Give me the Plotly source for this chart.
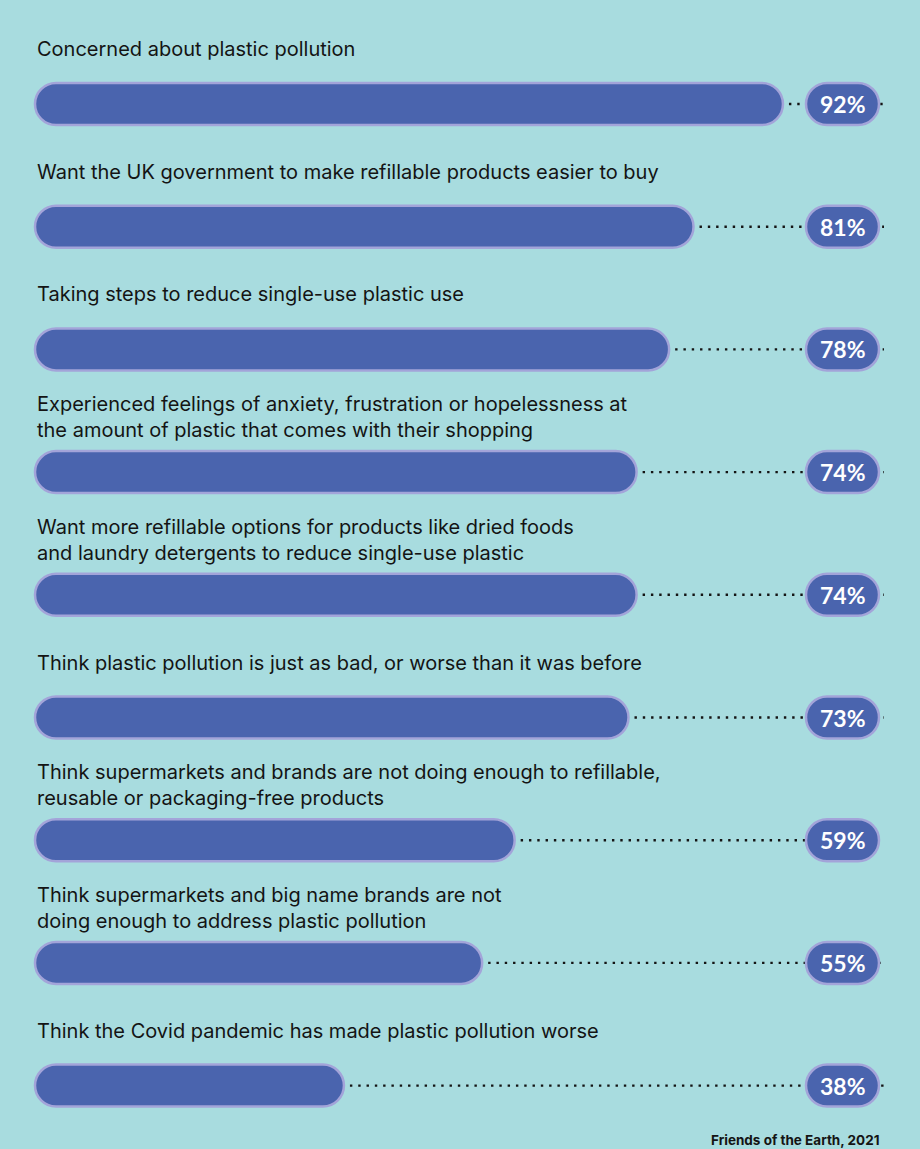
import plotly.graph_objects as go

# Survey statements and share of respondents agreeing (%)
statements = [
    "Concerned about plastic pollution",
    "Want the UK government to make refillable products easier to buy",
    "Taking steps to reduce single-use plastic use",
    "Experienced feelings of anxiety, frustration or hopelessness at<br>the amount of plastic that comes with their shopping",
    "Want more refillable options for products like dried foods<br>and laundry detergents to reduce single-use plastic",
    "Think plastic pollution is just as bad, or worse than it was before",
    "Think supermarkets and brands are not doing enough to refillable,<br>reusable or packaging-free products",
    "Think supermarkets and big name brands are not<br>doing enough to address plastic pollution",
    "Think the Covid pandemic has made plastic pollution worse",
]
values = [92, 81, 78, 74, 74, 73, 59, 55, 38]
source = "Friends of the Earth, 2021"

# Page geometry
W, H = 920, 1149
X0_PX = 35.0          # pixel position of 0 %
PX_PER_PCT = 8.13     # pixels per percentage point
ROW0_PX = 104.0       # pixel centre of first row
ROW_PX = 122.7        # pixel spacing of rows

BG = "#a8dcdf"
FILL = "#4a64ae"
EDGE = "#a3a4d9"
INK = "#141414"

x_range = [-X0_PX / PX_PER_PCT, (W - X0_PX) / PX_PER_PCT]
y_range = [(H - ROW0_PX) / ROW_PX, -ROW0_PX / ROW_PX]

def px_x(p):
    return p / PX_PER_PCT

def px_y(p):
    return p / ROW_PX

HALF_H = px_y(21)      # half bar height
RAD_X = px_x(21)       # end-cap radius in x units
PILL_X0 = px_x(806 - X0_PX)
PILL_X1 = px_x(879 - X0_PX)
DOT_END = px_x(884 - X0_PX)
K = 0.5523

def pill(x0, x1, yc, rx, hy):
    t, b = yc - hy, yc + hy
    return (
        f"M {x0+rx},{t} L {x1-rx},{t} "
        f"C {x1-rx+K*rx},{t} {x1},{yc-K*hy} {x1},{yc} "
        f"C {x1},{yc+K*hy} {x1-rx+K*rx},{b} {x1-rx},{b} "
        f"L {x0+rx},{b} "
        f"C {x0+rx-K*rx},{b} {x0},{yc+K*hy} {x0},{yc} "
        f"C {x0},{yc-K*hy} {x0+rx-K*rx},{t} {x0+rx},{t} Z"
    )

rows = list(range(len(values)))

fig = go.Figure()

# dotted leader lines from each bar end to the value badge
for i, v in zip(rows, values):
    fig.add_trace(go.Scatter(
        x=[v + px_x(6), DOT_END], y=[i, i], mode="lines",
        line=dict(color=INK, width=2.4, dash="2.4px,5.9px"),
        hoverinfo="skip", showlegend=False,
    ))

shapes = []
annotations = []
for i, (label, v) in enumerate(zip(statements, values)):
    shapes.append(dict(
        type="path", xref="x", yref="y", layer="above",
        path=pill(0, v, i, RAD_X, HALF_H),
        fillcolor=FILL, line=dict(color=EDGE, width=2.5),
    ))
    shapes.append(dict(
        type="path", xref="x", yref="y", layer="above",
        path=pill(PILL_X0, PILL_X1, i, RAD_X, HALF_H),
        fillcolor=FILL, line=dict(color=EDGE, width=2.5),
    ))
    annotations.append(dict(
        x=0, y=i - px_y(55), xref="x", yref="y",
        text=label, showarrow=False, xanchor="left", yanchor="middle",
        align="left",
        font=dict(family="Inter, sans-serif", size=20, color=INK),
    ))
    annotations.append(dict(
        x=(PILL_X0 + PILL_X1) / 2, y=i, xref="x", yref="y",
        text=f"<b>{v}%</b>", showarrow=False,
        xanchor="center", yanchor="middle",
        font=dict(family="Lato, sans-serif", size=23, color="white"),
    ))

annotations.append(dict(
    x=882 / W, y=1 - 1140 / H, xref="paper", yref="paper",
    text=f"<b>{source}</b>", showarrow=False,
    xanchor="right", yanchor="middle",
    font=dict(family="Inter, sans-serif", size=13.5, color=INK),
))

fig.update_layout(
    width=W, height=H,
    margin=dict(l=0, r=0, t=0, b=0),
    paper_bgcolor=BG, plot_bgcolor=BG,
    shapes=shapes, annotations=annotations,
    xaxis=dict(range=x_range, visible=False, fixedrange=True),
    yaxis=dict(range=y_range, visible=False, fixedrange=True),
    showlegend=False,
)

fig.write_html("out.html")
